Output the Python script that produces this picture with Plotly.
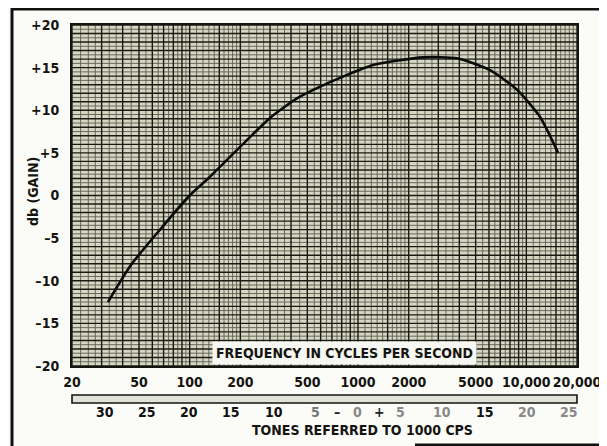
import math
import plotly.graph_objects as go

# ---- data ----
freq_hz = [32.7, 45, 66.7, 100, 132, 219, 300, 434, 600, 782, 1230, 2436, 3880, 6090, 8810, 12070, 15440]
gain_db = [-12.5, -8.1, -4.0, 0.0, 2.2, 6.5, 9.1, 11.4, 12.8, 13.8, 15.3, 16.2, 16.1, 14.7, 12.4, 9.2, 5.0]

freq_ticks = [20, 50, 100, 200, 500, 1000, 2000, 5000, 10000, 20000]
freq_labels = ["20", "50", "100", "200", "500", "1000", "2000", "5000", "10,000", "20,000"]

db_ticks = [20, 15, 10, 5, 0, -5, -10, -15, -20]
db_labels = ["+20", "+15", "+10", "+5", "0", "–5", "–10", "–15", "–20"]

tone_pos = [-30, -25, -20, -15, -10, -5, -2.5, 0, 2.5, 5, 10, 15, 20, 25]
tone_labels = ["30", "25", "20", "15", "10", "5", "–", "0", "+", "5", "10", "15", "20", "25"]
tone_colors = ["#111", "#111", "#111", "#111", "#111", "#777", "#222", "#888", "#222", "#888",
               "#888", "#111", "#888", "#888"]

FONT = "DejaVu Sans Condensed"
INK = "#141410"

fig = go.Figure()

# ---- graph-paper grid (log paper, 3 cycles) ----
def vlines(xs, y0, y1):
    X, Y = [], []
    for x in xs:
        X += [x, x, None]
        Y += [y0, y1, None]
    return X, Y

def hlines(ys, x0, x1):
    X, Y = [], []
    for y in ys:
        X += [x0, x1, None]
        Y += [y, y, None]
    return X, Y

heavy_v, light_v = [], []
for dec in [10, 100, 1000, 10000]:
    for m in [1, 1.5, 2, 3, 4, 5, 6, 7, 8, 9]:
        f = m * dec
        if 20 <= f <= 20000:
            heavy_v.append(f)
    for m in [1.1, 1.2, 1.3, 1.4, 1.6, 1.7, 1.8, 1.9, 2.25, 2.5, 2.75, 3.33, 3.66,
              4.5, 5.5, 6.5, 7.5, 8.5, 9.5]:
        f = m * dec
        if 20 <= f <= 20000:
            light_v.append(f)

heavy_h = [v for v in range(-20, 21)]
light_h = [v + 0.5 for v in range(-20, 20)]

x, y = vlines(light_v, -20, 20)
fig.add_trace(go.Scatter(x=x, y=y, mode="lines", line=dict(color="#5e5e50", width=0.9),
                         hoverinfo="skip", showlegend=False))
x, y = hlines(light_h, 20, 20000)
fig.add_trace(go.Scatter(x=x, y=y, mode="lines", line=dict(color="#5e5e50", width=0.9),
                         hoverinfo="skip", showlegend=False))
x, y = vlines(heavy_v, -20, 20)
fig.add_trace(go.Scatter(x=x, y=y, mode="lines", line=dict(color="#1a1a12", width=1.4),
                         hoverinfo="skip", showlegend=False))
x, y = hlines(heavy_h, 20, 20000)
fig.add_trace(go.Scatter(x=x, y=y, mode="lines", line=dict(color="#1a1a12", width=1.4),
                         hoverinfo="skip", showlegend=False))

# ---- response curve ----
fig.add_trace(go.Scatter(x=freq_hz, y=gain_db, mode="lines",
                         line=dict(color="#0a0a08", width=2.6, shape="spline", smoothing=0.6),
                         showlegend=False))

# ---- tone strip ticks (whole tones referred to 1000 cps) ----
tx, ty = [], []
for t in range(-31, 27):
    f = 1000 * 2 ** (t / 6)
    if 20 < f < 20000:
        tx += [f, f, None]
        ty += [0, 1, None] if t % 5 == 0 else [0.25, 0.75, None]
fig.add_trace(go.Scatter(x=tx, y=ty, xaxis="x", yaxis="y2", mode="lines",
                         line=dict(color=INK, width=1.3), hoverinfo="skip", showlegend=False))
fig.add_trace(go.Scatter(x=[20, 20000], y=[0.5, 0.5], xaxis="x", yaxis="y2", mode="lines",
                         line=dict(color="#444", width=0.9), hoverinfo="skip", showlegend=False))

# ---- layout (page has an 8px body margin; coordinates below are page pixels) ----
OFF = 8
W, H = 607, 446
PLOT_L, PLOT_R, PLOT_T, PLOT_B, STRIP_B = 72, 577, 25, 366, 403
L = PLOT_L - OFF
T = PLOT_T - OFF
R = W - (PLOT_R - OFF)
B = H - (STRIP_B - OFF)
PH = STRIP_B - PLOT_T
PW = PLOT_R - PLOT_L
def px(xp):
    return (xp - PLOT_L) / PW
def py(yp):
    return (STRIP_B - yp) / PH

main_bottom = py(PLOT_B)

fig.update_layout(
    width=W, height=H,
    margin=dict(l=L, r=R, t=T, b=B, autoexpand=False),
    paper_bgcolor="#fbfbf8",
    plot_bgcolor="#fbfbf8",
    font=dict(family=FONT, color=INK, size=14),
    showlegend=False,
    xaxis=dict(type="log", range=[math.log10(20), math.log10(20000)],
               tickvals=freq_ticks, ticktext=freq_labels, showgrid=False, zeroline=False,
               showline=True, linecolor=INK, linewidth=2, mirror=True, ticks="",
               tickangle=0, automargin=False, anchor="y", ticklabelstandoff=2,
               tickfont=dict(family=FONT, size=14, weight="bold")),
    yaxis=dict(domain=[main_bottom, 1], range=[-20, 20], tickvals=db_ticks, ticktext=db_labels,
               showgrid=False, zeroline=False, showline=True, linecolor=INK, linewidth=2,
               mirror=True, ticks="", ticklabelstandoff=8, automargin=False,
               tickfont=dict(family=FONT, size=14, weight="bold")),
    yaxis2=dict(domain=[0, py(395)], range=[0, 1], anchor="x", showticklabels=False,
                showgrid=False, zeroline=False, showline=False, ticks="", automargin=False),
)

# paper backgrounds
fig.add_shape(type="rect", xref="x domain", yref="y domain", x0=0, x1=1, y0=0, y1=1,
              fillcolor="#d6d6c4", line=dict(width=0), layer="below")
fig.add_shape(type="rect", xref="x domain", yref="y2 domain", x0=0, x1=1, y0=0, y1=1,
              fillcolor="#e2e2d8", line=dict(color=INK, width=1.6), layer="above")

# frame of the figure
frame = dict(color="#111", width=3)
fig.add_shape(type="line", xref="paper", yref="paper", x0=px(12), x1=px(12), y0=py(8), y1=py(452), line=frame)
fig.add_shape(type="line", xref="paper", yref="paper", x0=px(12), x1=px(603), y0=py(9), y1=py(9), line=frame)
fig.add_shape(type="line", xref="paper", yref="paper", x0=px(603), x1=px(603), y0=py(9), y1=py(445), line=frame)
fig.add_shape(type="line", xref="paper", yref="paper", x0=px(415), x1=px(603), y0=py(445), y1=py(445), line=frame)

# texts
fig.add_annotation(text="FREQUENCY IN CYCLES PER SECOND", xref="paper", yref="paper",
                   x=px(344), y=py(353), xanchor="center", yanchor="middle",
                   showarrow=False, bgcolor="#f6f6f2", borderpad=3,
                   font=dict(family=FONT, size=14, weight="bold", color=INK))
fig.add_annotation(text="TONES REFERRED TO 1000 CPS", xref="paper", yref="paper",
                   x=px(362), y=py(430), xanchor="center", yanchor="middle", showarrow=False,
                   font=dict(family=FONT, size=14, weight="bold", color=INK))
fig.add_annotation(text="db (GAIN)", xref="paper", yref="paper", x=px(33), y=py(192),
                   xanchor="center", yanchor="middle", textangle=-90, showarrow=False,
                   font=dict(family=FONT, size=14, weight="bold", color=INK))
for t, lab, c in zip(tone_pos, tone_labels, tone_colors):
    f = 1000 * 2 ** (t / 6)
    fig.add_annotation(text=lab, xref="x", yref="paper", x=math.log10(f), y=py(412),
                       xanchor="center", yanchor="middle",
                       showarrow=False, font=dict(family=FONT, size=14, weight="bold", color=c))

fig.write_html("out.html")
